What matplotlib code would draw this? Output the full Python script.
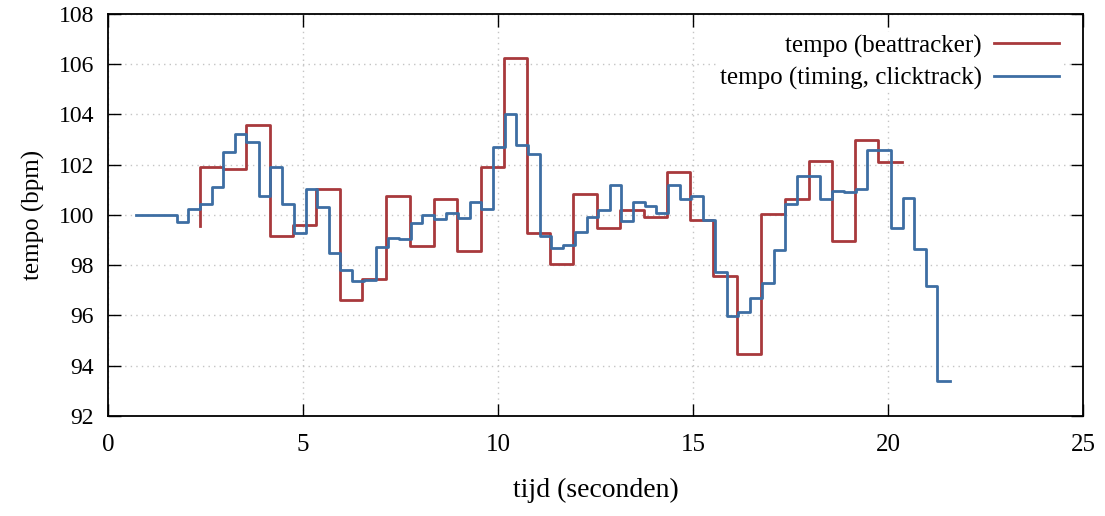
import numpy as np
import matplotlib
matplotlib.use("Agg")
import matplotlib.pyplot as plt

# tempo uit de beattracker (rechterrand van elk interval, bpm)
beat_t = [2.35, 2.96, 3.55, 4.15, 4.74, 5.34, 5.94, 6.52, 7.13, 7.74, 8.35,
          8.96, 9.56, 10.15, 10.75, 11.33, 11.93, 12.54, 13.12, 13.73, 14.33,
          14.93, 15.52, 16.12, 16.73, 17.36, 17.96, 18.57, 19.15, 19.74, 20.36]
beat_bpm = [99.56, 101.9, 101.83, 103.6, 99.17, 99.59, 101.05, 96.6, 97.45,
            100.76, 98.76, 100.63, 98.56, 101.92, 106.23, 99.29, 98.05, 100.84,
            99.47, 100.2, 99.91, 101.71, 99.8, 97.58, 94.47, 100.02, 100.63,
            102.14, 98.97, 103.0, 102.12]

# tempo uit de timing van de clicktrack
click_t = [0.73, 1.76, 2.05, 2.35, 2.66, 2.96, 3.26, 3.55, 3.87, 4.16, 4.46,
           4.76, 5.08, 5.36, 5.67, 5.96, 6.26, 6.56, 6.86, 7.17, 7.47, 7.77,
           8.06, 8.37, 8.66, 8.97, 9.27, 9.57, 9.87, 10.17, 10.46, 10.77,
           11.07, 11.36, 11.67, 11.97, 12.27, 12.57, 12.86, 13.16, 13.46,
           13.76, 14.06, 14.36, 14.66, 14.96, 15.26, 15.55, 15.86, 16.16,
           16.46, 16.76, 17.07, 17.36, 17.66, 18.26, 18.57, 18.87, 19.17,
           19.46, 20.07, 20.37, 20.66, 20.96, 21.26, 21.58]
click_bpm = [100.0, 100.0, 99.71, 100.25, 100.43, 101.12, 102.52, 103.24,
             102.9, 100.76, 101.9, 100.43, 99.27, 101.05, 100.31, 98.47, 97.83,
             97.36, 97.43, 98.71, 99.08, 99.03, 99.67, 100.0, 99.83, 100.09,
             99.87, 100.51, 100.23, 102.69, 104.01, 102.8, 102.43, 99.16,
             98.69, 98.81, 99.31, 99.91, 100.2, 101.2, 99.75, 100.51, 100.36,
             100.09, 101.2, 100.64, 100.75, 99.8, 97.75, 95.99, 96.15, 96.7,
             97.3, 98.62, 100.44, 101.56, 100.64, 100.97, 100.92, 101.03,
             102.57, 99.49, 100.68, 98.64, 97.19, 93.39]

x_ticks = [0, 5, 10, 15, 20, 25]
y_ticks = [92, 94, 96, 98, 100, 102, 104, 106, 108]

plt.rcParams['font.family'] = ['Liberation Serif', 'DejaVu Serif']
plt.rcParams['font.size'] = 18

fig = plt.figure(figsize=(11.05, 5.16), dpi=100)
ax = fig.add_axes([0.0977, 0.1938, 0.8825, 0.7791])

ax.step(beat_t, beat_bpm, where='pre', color='#a8393c', lw=2.0,
        label='tempo (beattracker)', zorder=3)
ax.step(click_t, click_bpm, where='pre', color='#3d6ea3', lw=2.0,
        label='tempo (timing, clicktrack)', zorder=4)

ax.set_xlim(0, 25)
ax.set_ylim(92, 108)
ax.set_xticks(x_ticks)
ax.set_yticks(y_ticks)
ax.tick_params(direction='in', length=9, width=1, top=True, right=True)
ax.tick_params(axis='x', pad=13, labelsize=18)
ax.tick_params(axis='y', pad=10, labelsize=17)
for s in ax.spines.values():
    s.set_linewidth(1.3)

ax.grid(True, color='#c4c4c4', lw=1.0, linestyle=(0, (1, 3)))
ax.set_axisbelow(True)

ax.set_xlabel('tijd (seconden)', labelpad=16, fontsize=20)
ax.set_ylabel('tempo (bpm)', labelpad=10, fontsize=18)

leg = ax.legend(loc='upper right', bbox_to_anchor=(0.978, 0.955),
                markerfirst=False, frameon=True, fancybox=False,
                borderpad=0.1, borderaxespad=0, handlelength=2.6,
                handletextpad=0.5, labelspacing=0.36, fontsize=18)
leg.get_frame().set_facecolor('white')
leg.get_frame().set_edgecolor('none')
leg.get_frame().set_alpha(1)

fig.savefig('out.png', dpi=100)
